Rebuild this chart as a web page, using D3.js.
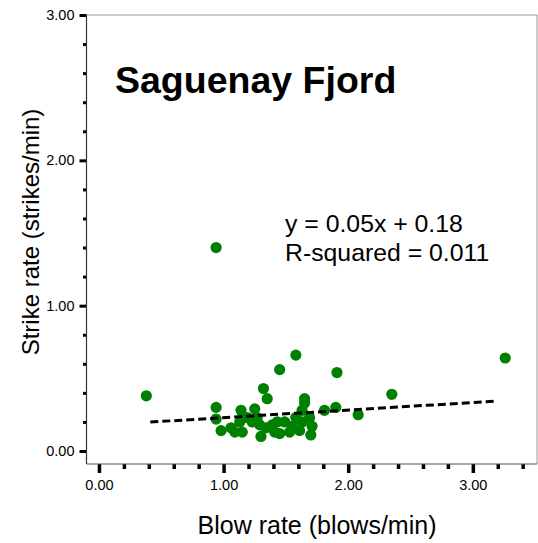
<!DOCTYPE html>
<html><head><meta charset="utf-8">
<script src="https://cdn.jsdelivr.net/npm/d3@7"></script>
<style>html,body{margin:0;padding:0;background:#fff}svg{display:block}text{font-family:"Liberation Sans",Arial,sans-serif}</style>
</head><body>
<script>
const blowRate = [0.38,0.94,0.94,0.94,0.98,1.06,1.09,1.14,1.13,1.15,1.25,1.23,1.30,1.32,1.35,1.34,1.41,1.43,1.45,1.39,1.45,1.53,1.55,1.49,1.58,1.65,1.65,1.63,1.63,1.70,1.71,1.69,1.81,1.90,1.91,2.08,2.35,3.26,1.27,1.58,1.61,1.29,1.19];
const strikeRate = [0.38,1.40,0.30,0.22,0.14,0.16,0.13,0.28,0.20,0.13,0.29,0.20,0.10,0.43,0.36,0.16,0.13,0.20,0.56,0.18,0.12,0.13,0.17,0.20,0.66,0.36,0.33,0.28,0.20,0.11,0.17,0.23,0.28,0.30,0.54,0.25,0.39,0.64,0.23,0.23,0.14,0.18,0.23];
const slope = 0.05, intercept = 0.18;
const xMajor = [0,1,2,3], xMajorLabels = ["0.00","1.00","2.00","3.00"];
const yMajor = [0,1,2,3], yMajorLabels = ["0.00","1.00","2.00","3.00"];
const title = "Saguenay Fjord";
const eqLines = ["y = 0.05x + 0.18","R-squared = 0.011"];
const xTitle = "Blow rate (blows/min)", yTitle = "Strike rate (strikes/min)";

const W=538,H=543;
const L=86.5,R=537,T=15,B=464;
const svg=d3.select("body").append("svg").attr("width",W).attr("height",H);
const x=d3.scaleLinear().domain([-0.1,3.515]).range([L,R]);
const y=d3.scaleLinear().domain([-0.0894,3.0]).range([B,T]);

// frame
svg.append("line").attr("x1",L).attr("x2",R).attr("y1",T).attr("y2",T).attr("stroke","#999").attr("stroke-width",1);
svg.append("line").attr("x1",R).attr("x2",R).attr("y1",T).attr("y2",B).attr("stroke","#999").attr("stroke-width",1);

const xMinor=d3.range(0,3.41,0.2).filter(v=>Math.abs(v-Math.round(v))>0.01);
const yMinor=d3.range(0,3.01,0.2).filter(v=>Math.abs(v-Math.round(v))>0.01);

function styleAxis(g){g.select(".domain").remove();g.selectAll(".tick line").attr("stroke","#000").attr("stroke-width",3.5);g.selectAll("text").attr("fill","#000").style("font-size","14.5px");}

svg.append("g").attr("transform",`translate(0,${B})`).call(d3.axisBottom(x).tickValues(xMinor).tickSize(5).tickFormat("")).call(styleAxis);
svg.append("g").attr("transform",`translate(0,${B})`).call(d3.axisBottom(x).tickValues(xMajor).tickSize(9).tickPadding(7).tickFormat((d,i)=>xMajorLabels[i])).call(styleAxis);
svg.append("g").attr("transform",`translate(${L},0)`).call(d3.axisLeft(y).tickValues(yMinor).tickSize(3.5).tickFormat("")).call(g=>{styleAxis(g);g.selectAll(".tick line").attr("stroke-width",3);});
svg.append("g").attr("transform",`translate(${L},0)`).call(d3.axisLeft(y).tickValues(yMajor).tickSize(7).tickPadding(5).tickFormat((d,i)=>yMajorLabels[i])).call(g=>{styleAxis(g);g.selectAll(".tick line").attr("stroke-width",3);});

svg.append("line").attr("x1",L).attr("x2",L).attr("y1",T).attr("y2",B).attr("stroke","#333").attr("stroke-width",1.2);
svg.append("line").attr("x1",L).attr("x2",R).attr("y1",B).attr("y2",B).attr("stroke","#555").attr("stroke-width",1.2);

// points
svg.append("g").selectAll("circle").data(blowRate).join("circle")
 .attr("cx",d=>x(d)).attr("cy",(d,i)=>y(strikeRate[i])).attr("r",5.6).attr("fill","#008000");

// regression
const xe=d3.extent(blowRate);
svg.append("line").attr("x1",x(xe[0])+4).attr("x2",x(xe[1])-10)
 .attr("y1",y(slope*xe[0]+intercept)).attr("y2",y(slope*xe[1]+intercept))
 .attr("stroke","#000").attr("stroke-width",3).attr("stroke-dasharray","8,4");

svg.append("text").attr("x",115).attr("y",93).text(title).style("font-size","37.5px").style("font-weight","bold");
svg.selectAll(".eq").data(eqLines).join("text").attr("x",285).attr("y",(d,i)=>232+i*29).text(d=>d).style("font-size","24.8px");
svg.append("text").attr("x",317).attr("y",534).attr("text-anchor","middle").text(xTitle).style("font-size","25px");
svg.append("text").attr("transform",`translate(39,232) rotate(-90)`).attr("text-anchor","middle").text(yTitle).style("font-size","24px");
</script>
</body></html>
